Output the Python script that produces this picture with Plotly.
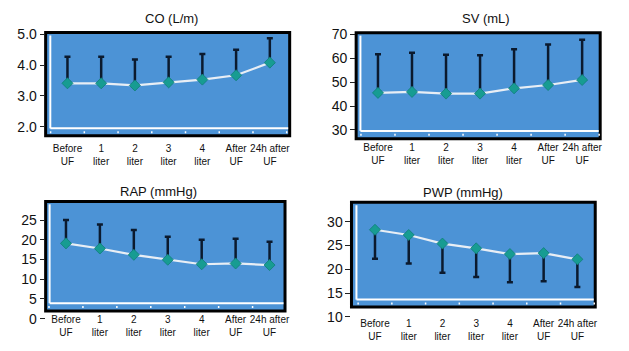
import plotly.graph_objects as go

W, H = 629, 351

categories = ["Before<br>UF", "1<br>liter", "2<br>liter", "3<br>liter",
              "4<br>liter", "After<br>UF", "24h after<br>UF"]

co_mean = [3.41, 3.41, 3.34, 3.44, 3.53, 3.67, 4.08]
co_upper = [4.27, 4.27, 4.18, 4.27, 4.36, 4.50, 4.87]
sv_mean = [45.5, 45.9, 45.2, 45.2, 47.4, 48.8, 50.9]
sv_upper = [61.6, 62.3, 61.4, 61.2, 63.7, 65.7, 67.7]
rap_mean = [19.1, 17.8, 16.2, 14.95, 13.8, 14.0, 13.6]
rap_upper = [25.0, 23.9, 22.5, 20.8, 20.0, 20.3, 19.5]
pwp_mean = [28.3, 27.2, 25.4, 24.4, 23.2, 23.4, 22.1]
pwp_lower = [22.2, 21.2, 19.3, 18.4, 17.3, 17.5, 16.3]

co_ticks = [2, 3, 4, 5]
sv_ticks = [30, 40, 50, 60, 70]
rap_ticks = [0, 5, 10, 15, 20, 25]
pwp_ticks = [10, 15, 20, 25, 30]

FONT = "Liberation Sans, Arial, sans-serif"
BLUE = "#4c93d6"
BAR = "#0b1a2e"
LINE = "#e8eef5"
MARK = "#179c92"

panels = [
    dict(title="CO (L/m)", mean=co_mean, up=[u - m for u, m in zip(co_upper, co_mean)], down=None,
         box=(46, 27.5, 292, 134.3), x0=68, dx=34, wl=50.7, wb=126.7,
         ycal=(5.0, 29.3, 2.0, 125.0), dom_bottom=134.3, ticks=co_ticks, fmt=".1f",
         tpos=(173, 13), label_top=142.5),
    dict(title="SV (mL)", mean=sv_mean, up=[u - m for u, m in zip(sv_upper, sv_mean)], down=None,
         box=(359, 27.7, 605, 137.5), x0=381, dx=34.3, wl=363.3, wb=129.3,
         ycal=(70, 29.3, 30, 128.3), dom_bottom=137.5, ticks=sv_ticks, fmt="d",
         tpos=(490, 13), label_top=142),
    dict(title="RAP (mmHg)", mean=rap_mean, up=[u - m for u, m in zip(rap_upper, rap_mean)], down=None,
         box=(46, 202.3, 287.3, 315.7), x0=66.5, dx=34.2, wl=50.0, wb=307.7,
         ycal=(25, 221.7, 5, 303.3), dom_bottom=326, ticks=rap_ticks, fmt="d",
         tpos=(160, 192), label_top=320),
    dict(title="PWP (mmHg)", mean=pwp_mean, up=None, down=[m - l for m, l in zip(pwp_mean, pwp_lower)],
         box=(354.3, 203.3, 600, 311.7), x0=378, dx=34, wl=359.3, wb=304,
         ycal=(30, 223.3, 15, 297.3), dom_bottom=325, ticks=pwp_ticks, fmt="d",
         tpos=(467, 193.5), label_top=324),
]


def px(x):
    return x / W


def py(y):
    return 1 - y / H


fig = go.Figure()
shapes = []
annotations = []
layout = {}

for i, p in enumerate(panels):
    n = "" if i == 0 else str(i + 1)
    xa, ya = "x" + n, "y" + n
    L, T, R, B = p["box"]
    v1, p1, v2, p2 = p["ycal"]
    s = (p2 - p1) / (v2 - v1)

    def val(pix):
        return v1 + (pix - p1) / s

    nz = [0] * len(p["mean"])
    err = dict(type="data", symmetric=False,
               array=p["up"] if p["up"] is not None else nz,
               arrayminus=p["down"] if p["down"] is not None else nz,
               color=BAR, thickness=2.5, width=3)
    fig.add_trace(go.Scatter(x=categories, y=p["mean"], mode="lines+markers",
                             xaxis=xa, yaxis=ya, error_y=err,
                             line=dict(color=LINE, width=2.2),
                             marker=dict(symbol="diamond", size=8.5, color=MARK,
                                         line=dict(color="#0f7f78", width=0.8)),
                             showlegend=False))

    layout["xaxis" + n] = dict(
        domain=[px(L), px(R)], range=[(L - p["x0"]) / p["dx"], (R - p["x0"]) / p["dx"]],
        anchor="free", position=py(p["label_top"] - 3), type="category",
        showgrid=False, zeroline=False, showline=False, ticks="",
        tickfont=dict(family=FONT, size=10, color="#111111"), fixedrange=True)
    layout["yaxis" + n] = dict(
        domain=[py(p["dom_bottom"]), py(T)], range=[val(p["dom_bottom"]), val(T)],
        anchor=xa, showgrid=False, zeroline=False, showline=False,
        ticks="outside", ticklen=5, tickwidth=1, tickcolor="#222222",
        tickvals=p["ticks"], tickformat=p["fmt"],
        tickfont=dict(family=FONT, size=14, color="#111111"), fixedrange=True)

    # plot box
    shapes.append(dict(type="rect", xref="paper", yref="paper", layer="below",
                       x0=px(L), x1=px(R), y0=py(B), y1=py(T),
                       fillcolor=BLUE, line=dict(color="black", width=3)))
    # white frame lines
    shapes.append(dict(type="line", xref="paper", yref="paper", layer="below",
                       x0=px(p["wl"]), x1=px(p["wl"]), y0=py(T + 3), y1=py(p["wb"]),
                       line=dict(color="white", width=2)))
    shapes.append(dict(type="line", xref="paper", yref="paper", layer="below",
                       x0=px(p["wl"]), x1=px(R - 1.5), y0=py(p["wb"]), y1=py(p["wb"]),
                       line=dict(color="white", width=2)))
    for k in range(len(categories) + 1):
        shapes.append(dict(type="line", xref=xa, yref="paper", layer="below",
                           x0=k - 0.5, x1=k - 0.5, y0=py(p["wb"] + 3), y1=py(p["wb"] + 5),
                           line=dict(color="white", width=1.5)))
    annotations.append(dict(text=p["title"], xref="paper", yref="paper",
                            x=px(p["tpos"][0]), y=py(p["tpos"][1]),
                            xanchor="center", yanchor="middle", showarrow=False,
                            font=dict(family=FONT, size=13, color="#111111")))

fig.update_layout(width=W, height=H, margin=dict(l=0, r=0, t=0, b=0),
                  paper_bgcolor="white", plot_bgcolor="rgba(0,0,0,0)",
                  shapes=shapes, annotations=annotations, **layout)

fig.write_html("out.html")
